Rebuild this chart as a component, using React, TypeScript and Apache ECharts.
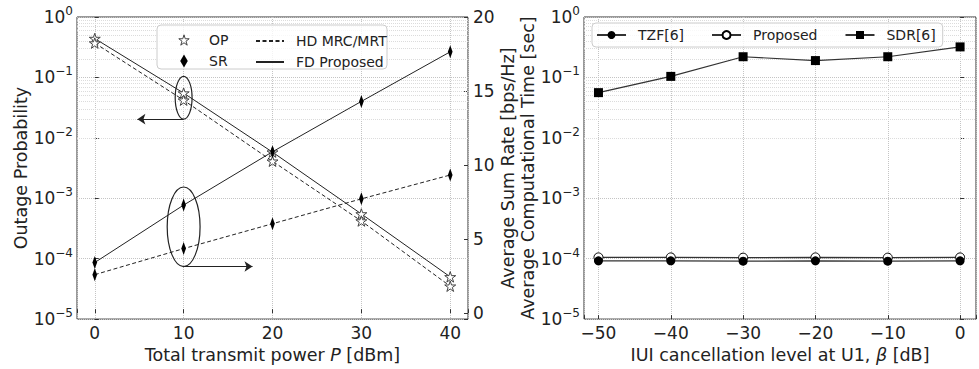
import React, { useEffect, useRef } from 'react';
import * as echarts from 'echarts';

// ---- Left panel data ----
const powerDbm = [0, 10, 20, 30, 40];
const opFD = [0.44, 0.055, 0.0058, 0.00055, 0.00005];
const opHD = [0.37, 0.042, 0.0041, 0.00042, 0.000035];
const srFD = [3.42, 7.3, 10.9, 14.3, 17.65];
const srHD = [2.6, 4.36, 6.04, 7.72, 9.33];

// ---- Right panel data ----
const iuiDb = [-50, -40, -30, -20, -10, 0];
const timeTZF = [9.2e-5, 9.2e-5, 9.1e-5, 9.2e-5, 9.1e-5, 9.2e-5];
const timeProposed = [1.05e-4, 1.05e-4, 1.04e-4, 1.05e-4, 1.04e-4, 1.05e-4];
const timeSDR = [0.056, 0.104, 0.22, 0.19, 0.22, 0.32];

// ---- Legend labels ----
const leftLegendMarkers = ['OP', 'SR'];
const leftLegendLines = ['HD MRC/MRT', 'FD Proposed'];
const rightLegend = ['TZF[6]', 'Proposed', 'SDR[6]'];

// ---- Log minor gridlines (2..9 x 10^k) ----
const decades = [-5, -4, -3, -2, -1];
const minorMultipliers = [2, 3, 4, 5, 6, 7, 8, 9];

// ---- Annotations (data coordinates) ----
const opEllipse = { x: [9.05, 10.95], y: [0.0204, 0.104] };
const opArrow = { from: [10, 0.0204], to: [4.8, 0.0204] };
const srEllipse = { x: [8.15, 11.85], y: [3.15, 8.52] };
const srArrow = { from: [10, 3.15], to: [17.75, 3.15] };

const FONT = 'DejaVu Sans';
const INK = '#222';
const STAR = 'path://M50,0L61.2,34.5L97.6,34.5L68.2,55.9L79.4,90.5L50,69.1L20.6,90.5L31.8,55.9L2.4,34.5L38.8,34.5Z';
const THIN_DIAMOND = 'path://M7,0L14,12L7,24L0,12Z';
const starStyle = { color: '#fff', borderColor: '#444', borderWidth: 1 };

const minorVals: number[] = [];
decades.forEach((d) => minorMultipliers.forEach((m) => minorVals.push(m * Math.pow(10, d))));

const logLabel = (v: number) => {
  const e = Math.round(Math.log10(v));
  return `{b|10}{s|${e < 0 ? '\u2212' + -e : e}}`;
};
const logRich = {
  b: { fontSize: 17, fontFamily: FONT, color: INK, lineHeight: 24 },
  s: { fontSize: 12, fontFamily: FONT, color: INK, lineHeight: 24, verticalAlign: 'top' as const },
};

const nameStyle = {
  fontSize: 17.5,
  fontFamily: FONT,
  color: INK,
  rich: { i: { fontStyle: 'italic' as const, fontSize: 17.5, fontFamily: FONT, color: INK } },
};

const majorSplit = { show: true, lineStyle: { color: '#c4c4c4', type: 'dotted' as const, width: 1 } };
const tick = { show: true, inside: true, length: 4, lineStyle: { color: '#333' } };

const minorGridMarkLine = {
  silent: true,
  z: 1,
  symbol: ['none', 'none'],
  label: { show: false },
  lineStyle: { color: '#dcdcdc', type: 'dotted' as const, width: 1 },
  data: minorVals.map((v) => ({ yAxis: v })),
};

const legendText = { fontSize: 14, fontFamily: FONT, color: INK, lineHeight: 14 };

export default function App() {
  const ref = useRef<HTMLDivElement>(null);

  useEffect(() => {
    if (!ref.current) return;
    const chart = echarts.init(ref.current, undefined, { renderer: 'svg' });

    const option: any = {
      animation: false,
      backgroundColor: '#fff',
      textStyle: { fontFamily: FONT },
      grid: [
        { left: 77, top: 17, width: 391, height: 305, show: true, borderColor: '#333', borderWidth: 1, backgroundColor: 'transparent' },
        { left: 584, top: 17, width: 393, height: 305, show: true, borderColor: '#333', borderWidth: 1, backgroundColor: 'transparent' },
      ],
      xAxis: [
        {
          gridIndex: 0, type: 'value', min: -2, max: 42, minInterval: 10, maxInterval: 10,
          name: 'Total transmit power {i|P} [dBm]', nameLocation: 'middle', nameGap: 22, nameTextStyle: nameStyle,
          axisLine: { show: false }, axisTick: tick,
          axisLabel: { margin: 5, fontSize: 17, fontFamily: FONT, color: INK, formatter: (v: number) => (v % 10 === 0 ? String(v) : '') },
          splitLine: majorSplit,
        },
        {
          gridIndex: 1, type: 'value', min: -52, max: 2.2, minInterval: 10, maxInterval: 10,
          name: 'IUI cancellation level at U1, {i|\u03b2} [dB]', nameLocation: 'middle', nameGap: 22, nameTextStyle: nameStyle,
          axisLine: { show: false }, axisTick: tick,
          axisLabel: { margin: 5, fontSize: 17, fontFamily: FONT, color: INK, formatter: (v: number) => (v % 10 === 0 ? String(v).replace('-', '\u2212') : '') },
          splitLine: majorSplit,
        },
      ],
      yAxis: [
        {
          gridIndex: 0, type: 'log', logBase: 10, min: 1e-5, max: 1,
          name: 'Outage Probability', nameLocation: 'middle', nameGap: 46, nameTextStyle: nameStyle,
          axisLine: { show: false }, axisTick: tick,
          axisLabel: { margin: 4, formatter: logLabel, rich: logRich },
          splitLine: majorSplit,
        },
        {
          gridIndex: 0, type: 'value', position: 'right', min: -0.4, max: 20, minInterval: 5, maxInterval: 5,
          name: 'Average Sum Rate [bps/Hz]', nameLocation: 'middle', nameGap: 30, nameTextStyle: nameStyle,
          axisLine: { show: false }, axisTick: tick,
          axisLabel: { margin: 5, fontSize: 17, fontFamily: FONT, color: INK, formatter: (v: number) => (v % 5 === 0 ? String(v) : '') },
          splitLine: { show: false },
        },
        {
          gridIndex: 1, type: 'log', logBase: 10, min: 1e-5, max: 1,
          name: 'Average Computational Time [sec]', nameLocation: 'middle', nameGap: 46, nameTextStyle: nameStyle,
          axisLine: { show: false }, axisTick: tick,
          axisLabel: { margin: 4, formatter: logLabel, rich: logRich },
          splitLine: majorSplit,
        },
      ],
      legend: [
        {
          data: [
            { name: leftLegendMarkers[0], itemStyle: starStyle },
            { name: leftLegendMarkers[1], icon: THIN_DIAMOND, itemStyle: { color: '#000', borderWidth: 0 } },
          ],
          orient: 'vertical', left: 159, top: 28, itemWidth: 38, itemHeight: 13, itemGap: 7, symbolKeepAspect: true,
          textStyle: { ...legendText, padding: [0, 0, 0, 1] }, selectedMode: false, z: 6,
        },
        {
          data: leftLegendLines.map((n) => ({ name: n, itemStyle: { opacity: 0 } })),
          orient: 'vertical', left: 250, top: 29, itemWidth: 28, itemHeight: 14, itemGap: 7,
          textStyle: { ...legendText, padding: [0, 0, 0, 7] }, selectedMode: false, z: 6,
        },
        {
          data: rightLegend, orient: 'horizontal', left: 592, top: 23, itemWidth: 29, itemHeight: 10, itemGap: 27,
          padding: [5, 7, 5, 4], borderColor: '#cccccc', borderWidth: 1, borderRadius: 4, backgroundColor: 'rgba(255,255,255,0.8)',
          textStyle: { ...legendText, padding: [0, 0, 0, 7] }, selectedMode: false, z: 6,
        },
      ],
      series: [
        {
          name: 'FD OP', type: 'line', xAxisIndex: 0, yAxisIndex: 0, z: 5,
          data: powerDbm.map((x, i) => [x, opFD[i]]),
          symbol: STAR, symbolSize: 11, symbolKeepAspect: true,
          itemStyle: starStyle,
          lineStyle: { color: INK, width: 1 },
          markLine: {
            silent: true, symbol: ['none', 'arrow'], symbolSize: 8, label: { show: false },
            lineStyle: { color: INK, type: 'solid', width: 1.2 },
            data: [[{ coord: opArrow.from }, { coord: opArrow.to }]],
          },
        },
        {
          name: 'HD OP', type: 'line', xAxisIndex: 0, yAxisIndex: 0, z: 5,
          data: powerDbm.map((x, i) => [x, opHD[i]]),
          symbol: STAR, symbolSize: 11, symbolKeepAspect: true,
          itemStyle: starStyle,
          lineStyle: { color: INK, width: 1, type: [4, 2.5] },
        },
        {
          name: 'FD SR', type: 'line', xAxisIndex: 0, yAxisIndex: 1, z: 5,
          data: powerDbm.map((x, i) => [x, srFD[i]]),
          symbol: THIN_DIAMOND, symbolSize: [8, 13], symbolKeepAspect: true,
          itemStyle: { color: '#000' },
          lineStyle: { color: INK, width: 1 },
          markLine: {
            silent: true, symbol: ['none', 'arrow'], symbolSize: 8, label: { show: false },
            lineStyle: { color: INK, type: 'solid', width: 1.2 },
            data: [[{ coord: srArrow.from }, { coord: srArrow.to }]],
          },
        },
        {
          name: 'HD SR', type: 'line', xAxisIndex: 0, yAxisIndex: 1, z: 5,
          data: powerDbm.map((x, i) => [x, srHD[i]]),
          symbol: THIN_DIAMOND, symbolSize: [8, 13], symbolKeepAspect: true,
          itemStyle: { color: '#000' },
          lineStyle: { color: INK, width: 1, type: [4, 2.5] },
        },
        {
          name: 'Proposed', type: 'line', xAxisIndex: 1, yAxisIndex: 2, z: 5,
          data: iuiDb.map((x, i) => [x, timeProposed[i]]),
          symbol: 'circle', symbolSize: 9,
          itemStyle: { color: '#fff', borderColor: '#000', borderWidth: 1 },
          lineStyle: { color: '#333', width: 1.2 },
        },
        {
          name: 'TZF[6]', type: 'line', xAxisIndex: 1, yAxisIndex: 2, z: 6,
          data: iuiDb.map((x, i) => [x, timeTZF[i]]),
          symbol: 'circle', symbolSize: 9,
          itemStyle: { color: '#000' },
          lineStyle: { color: '#333', width: 1.2 },
        },
        {
          name: 'SDR[6]', type: 'line', xAxisIndex: 1, yAxisIndex: 2, z: 5,
          data: iuiDb.map((x, i) => [x, timeSDR[i]]),
          symbol: 'rect', symbolSize: 9,
          itemStyle: { color: '#000' },
          lineStyle: { color: '#333', width: 1.2 },
        },
        // legend proxies
        {
          name: 'OP', type: 'line', xAxisIndex: 0, yAxisIndex: 0, data: [],
          symbol: STAR, symbolKeepAspect: true,
          itemStyle: starStyle,
          lineStyle: { opacity: 0 },
        },
        {
          name: 'SR', type: 'line', xAxisIndex: 0, yAxisIndex: 0, data: [],
          symbol: THIN_DIAMOND, symbolKeepAspect: true,
          itemStyle: { color: '#000' },
          lineStyle: { opacity: 0 },
        },
        {
          name: 'HD MRC/MRT', type: 'line', xAxisIndex: 0, yAxisIndex: 0, data: [],
          symbol: 'none', itemStyle: { color: INK },
          lineStyle: { color: INK, width: 1, type: [4, 2.5] },
        },
        {
          name: 'FD Proposed', type: 'line', xAxisIndex: 0, yAxisIndex: 0, data: [],
          symbol: 'none', itemStyle: { color: INK },
          lineStyle: { color: INK, width: 1 },
        },
        // minor log gridlines
        { name: 'minor0', type: 'line', xAxisIndex: 0, yAxisIndex: 0, data: [], z: 1, markLine: minorGridMarkLine },
        { name: 'minor1', type: 'line', xAxisIndex: 1, yAxisIndex: 2, data: [], z: 1, markLine: minorGridMarkLine },
      ],
    };

    chart.setOption(option);

    const px = (seriesIndex: number, p: number[]) => chart.convertToPixel({ seriesIndex }, p) as number[];
    const ellipseFrom = (seriesIndex: number, e: { x: number[]; y: number[] }) => {
      const a = px(seriesIndex, [e.x[0], e.y[1]]);
      const b = px(seriesIndex, [e.x[1], e.y[0]]);
      return {
        type: 'ellipse',
        silent: true,
        z: 10,
        shape: { cx: (a[0] + b[0]) / 2, cy: (a[1] + b[1]) / 2, rx: Math.abs(b[0] - a[0]) / 2, ry: Math.abs(b[1] - a[1]) / 2 },
        style: { fill: 'none', stroke: INK, lineWidth: 1.2 },
      };
    };

    chart.setOption({
      graphic: [
        {
          type: 'rect', silent: true, z: 3,
          shape: { x: 157, y: 25, width: 230, height: 44, r: 4 },
          style: { fill: 'rgba(255,255,255,0.8)', stroke: '#cccccc', lineWidth: 1 },
        },
        ellipseFrom(0, opEllipse),
        ellipseFrom(2, srEllipse),
      ],
    });

    return () => chart.dispose();
  }, []);

  return <div ref={ref} style={{ position: 'absolute', left: 0, top: 0, width: 979, height: 369 }} />;
}
